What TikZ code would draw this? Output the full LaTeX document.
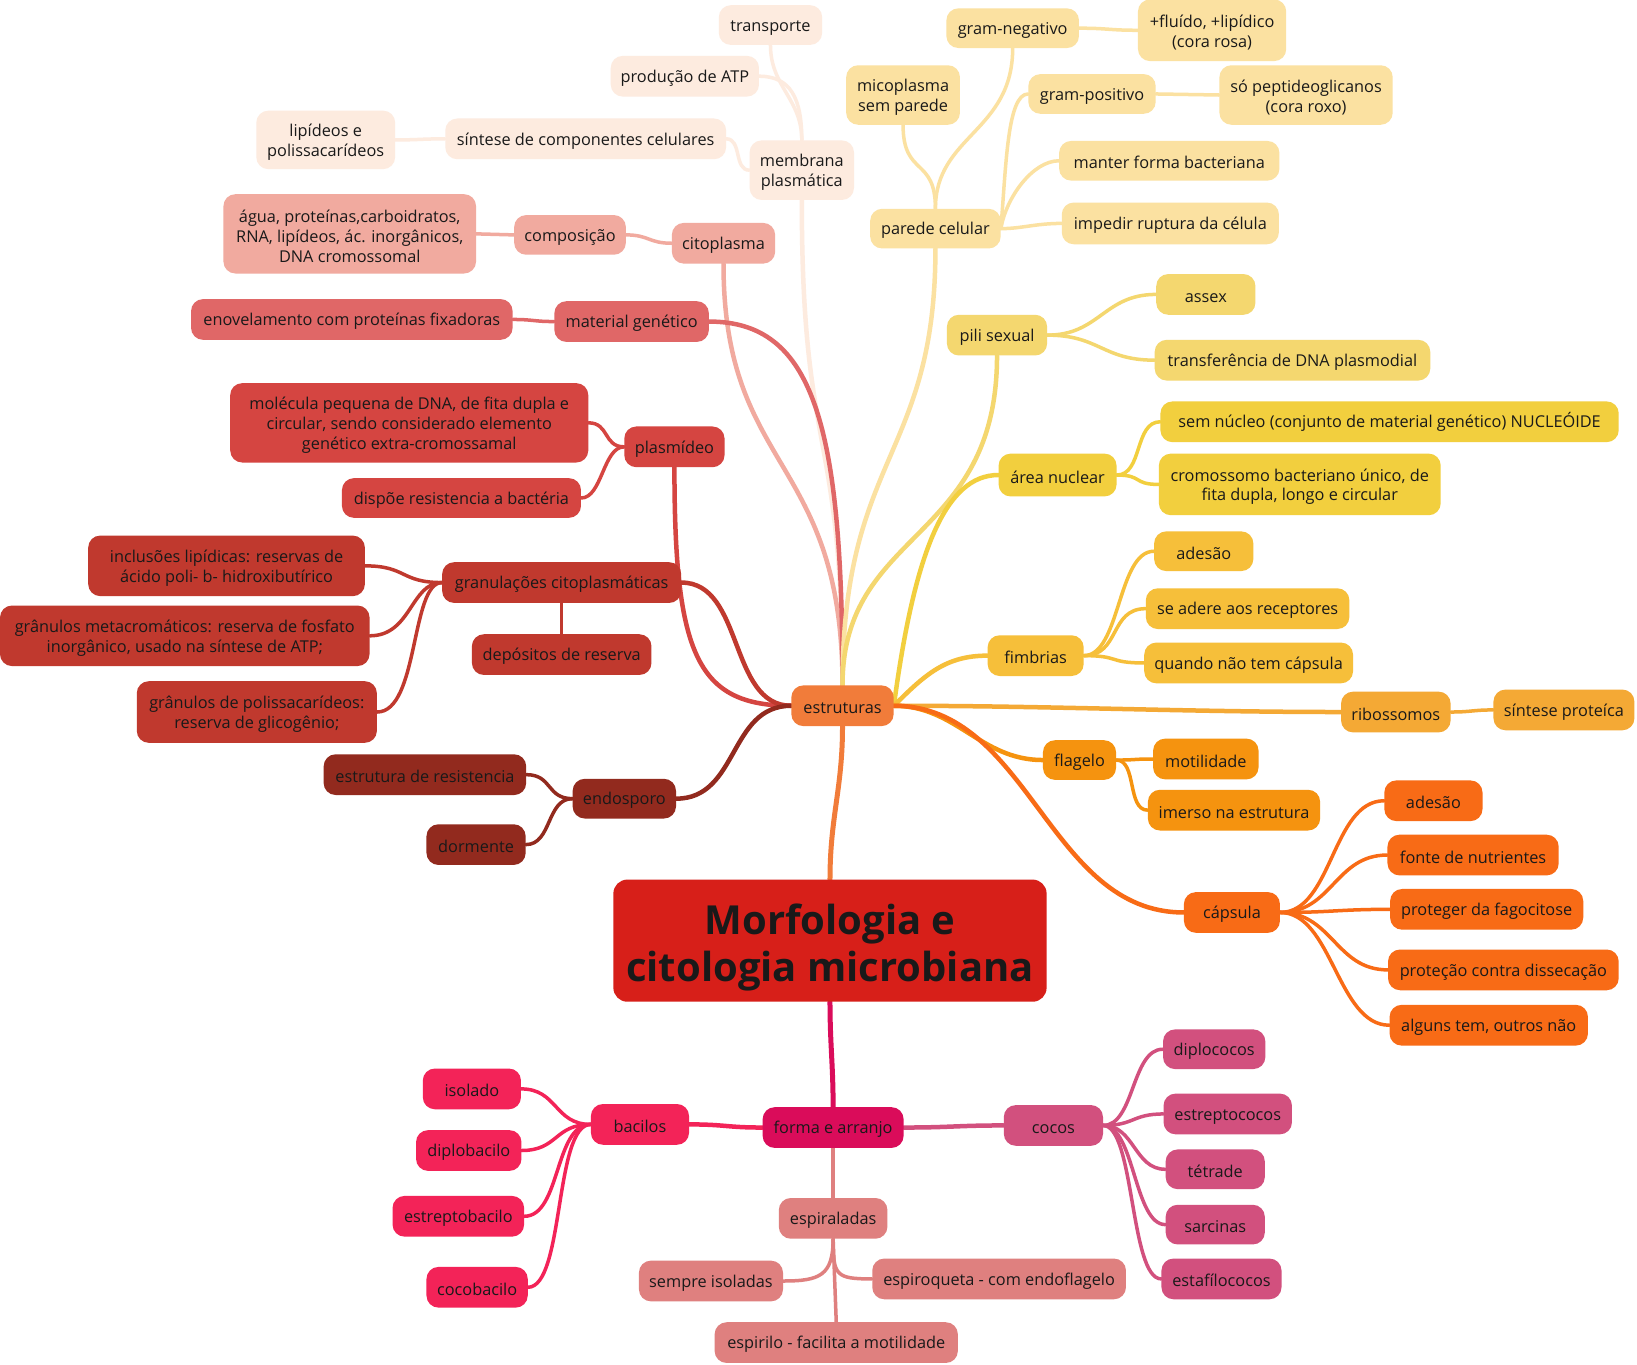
\documentclass[tikz,border=0pt]{standalone}
\usepackage{fontspec}
\setmainfont{Open Sans}
\pgfdeclarelayer{bg}
\pgfsetlayers{bg,main}
\definecolor{cC}{HTML}{D71F19}
\definecolor{cE}{HTML}{F17C3A}
\definecolor{cF}{HTML}{DA0C5A}
\definecolor{cMP}{HTML}{FDEBDF}
\definecolor{cCI}{HTML}{F1AA9F}
\definecolor{cMG}{HTML}{E06767}
\definecolor{cPL}{HTML}{D54541}
\definecolor{cGR}{HTML}{C0392E}
\definecolor{cEN}{HTML}{922A1E}
\definecolor{cPC}{HTML}{FBE1A1}
\definecolor{cPS}{HTML}{F4D76F}
\definecolor{cAN}{HTML}{F2CF3E}
\definecolor{cFB}{HTML}{F6BF3A}
\definecolor{cRB}{HTML}{F4A935}
\definecolor{cFG}{HTML}{F5930F}
\definecolor{cCP}{HTML}{F86B16}
\definecolor{cBA}{HTML}{F32358}
\definecolor{cCO}{HTML}{D2507E}
\definecolor{cES}{HTML}{DF807F}
\newcommand\mmfs{\fontsize{16.3}{19.8}\selectfont}
\tikzset{
  box/.style={rounded corners=12pt, inner xsep=2pt, inner ysep=3pt, align=center, font=\mmfs, text=black!90,
    execute at begin node={\rule{0pt}{1.0em}}},
  ln/.style={draw=#1, line width=3.5pt, line cap=round},
  mln/.style={draw=#1, line width=4.5pt, line cap=round}
}
\newcommand\mm[7]{\node[box, fill=#6, minimum width=#4*1.044pt, minimum height=#5*1.044pt] (#1) at (#2,#3) {#7};}
\newcommand\mmm[7]{\node[box, fill=#6, minimum width=#4*1.044pt, minimum height=#5*1.044pt] (#1) at (#2,#3) {\rule{0pt}{1.05em}#7};}
\begin{document}
\begin{tikzpicture}[x=1.044pt,y=-1.044pt]
\useasboundingbox (0,0) rectangle (1568,1307);
% central
\node[box, fill=cC, rounded corners=14pt, minimum width=415*1.044pt, minimum height=117*1.044pt, font=\fontsize{40}{47}\selectfont\bfseries] (c) at (795,901) {\rule{0pt}{1.1em}Morfologia e\\citologia microbiana};
\mm{e}{807}{676}{98}{39}{cE}{estruturas}
\mm{f}{798}{1080}{135}{39}{cF}{forma e arranjo}
% left upper
\mmm{mp}{768}{163}{100}{57}{cMP}{membrana\\plasmática}
\mm{tr}{738}{24}{99}{38}{cMP}{transporte}
\mm{atp}{656}{73}{142}{39}{cMP}{produção de ATP}
\mm{sc}{561}{133}{269}{39}{cMP}{síntese de componentes celulares}
\mmm{lp}{312}{134}{133}{56}{cMP}{lipídeos e\\polissacarídeos}
\mm{cit}{693}{233}{99}{39}{cCI}{citoplasma}
\mm{comp}{546}{225}{107}{38}{cCI}{composição}
\mmm{agua}{335}{224}{242}{76}{cCI}{água, proteínas,carboidratos,\\RNA, lipídeos, ác. inorgânicos,\\DNA cromossomal}
\mm{mg}{605}{308}{148}{39}{cMG}{material genético}
\mm{env}{337}{306}{308}{39}{cMG}{enovelamento com proteínas fixadoras}
\mm{pl}{646}{428}{96}{39}{cPL}{plasmídeo}
\mmm{mol}{392}{405}{343}{76}{cPL}{molécula pequena de DNA, de fita dupla e\\circular, sendo considerado elemento\\genético extra-cromossamal}
\mm{disp}{442}{477}{229}{38}{cPL}{dispõe resistencia a bactéria}
\mm{gr}{538}{558}{229}{39}{cGR}{granulações citoplasmáticas}
\mmm{inc}{217}{542}{265}{58}{cGR}{inclusões lipídicas: reservas de\\ácido poli- b- hidroxibutírico}
\mmm{met}{177}{609}{354}{58}{cGR}{grânulos metacromáticos: reserva de fosfato\\inorgânico, usado na síntese de ATP;}
\mmm{pol}{246}{682}{230}{59}{cGR}{grânulos de polissacarídeos:\\reserva de glicogênio;}
\mm{dep}{538}{627}{172}{39}{cGR}{depósitos de reserva}
\mm{endo}{598}{765}{99}{38}{cEN}{endosporo}
\mm{er}{407}{742}{194}{39}{cEN}{estrutura de resistencia}
\mm{dor}{456}{809}{95}{39}{cEN}{dormente}
% right upper
\mm{pc}{896}{219}{125}{38}{cPC}{parede celular}
\mmm{mic}{865}{91}{109}{57}{cPC}{micoplasma\\sem parede}
\mm{gn}{970}{27}{127}{38}{cPC}{gram-negativo}
\mmm{fl}{1161}{29}{142}{59}{cPC}{+fluído, +lipídico\\(cora rosa)}
\mm{gp}{1046}{90}{122}{38}{cPC}{gram-positivo}
\mmm{sp}{1251}{91}{166}{57}{cPC}{só peptideoglicanos\\(cora roxo)}
\mm{mf}{1120}{154}{211}{38}{cPC}{manter forma bacteriana}
\mm{ir}{1121}{214}{208}{40}{cPC}{impedir ruptura da célula}
\mm{ps}{955}{321}{96}{39}{cPS}{pili sexual}
\mm{as}{1155}{282}{95}{39}{cPS}{assex}
\mm{tdna}{1238}{345}{264}{39}{cPS}{transferência de DNA plasmodial}
\mm{an}{1013}{455}{113}{41}{cAN}{área nuclear}
\mm{sn}{1331}{404}{439}{39}{cAN}{sem núcleo (conjunto de material genético) NUCLEÓIDE}
\mmm{cr}{1245}{464}{270}{59}{cAN}{cromossomo bacteriano único, de\\fita dupla, longo e circular}
\mm{fb}{992}{628}{92}{39}{cFB}{fimbrias}
\mm{ad1}{1153}{528}{95}{38}{cFB}{adesão}
\mm{sa}{1195}{583}{195}{39}{cFB}{se adere aos receptores}
\mm{qn}{1196}{635}{200}{39}{cFB}{quando não tem cápsula}
\mm{rb}{1337}{682}{105}{39}{cRB}{ribossomos}
\mm{spt}{1498}{680}{135}{39}{cRB}{síntese proteíca}
\mm{fg}{1034}{728}{70}{38}{cFG}{flagelo}
\mm{mot}{1155}{727}{101}{39}{cFG}{motilidade}
\mm{im}{1182}{776}{165}{39}{cFG}{imerso na estrutura}
\mm{cap}{1180}{874}{92}{39}{cCP}{cápsula}
\mm{ad2}{1373}{767}{94}{39}{cCP}{adesão}
\mm{fn}{1411}{819}{164}{39}{cCP}{fonte de nutrientes}
\mm{pf}{1424}{871}{185}{39}{cCP}{proteger da fagocitose}
\mm{pd}{1440}{929}{221}{39}{cCP}{proteção contra dissecação}
\mm{at}{1426}{982}{190}{39}{cCP}{alguns tem, outros não}
% bottom
\mm{bac}{613}{1077}{94}{39}{cBA}{bacilos}
\mm{iso}{452}{1043}{94}{39}{cBA}{isolado}
\mm{dip}{449}{1102}{101}{39}{cBA}{diplobacilo}
\mm{est}{439}{1165}{126}{39}{cBA}{estreptobacilo}
\mm{cob}{457}{1233}{97}{39}{cBA}{cocobacilo}
\mm{coc}{1009}{1078}{95}{39}{cCO}{cocos}
\mm{dpc}{1163}{1005}{98}{38}{cCO}{diplococos}
\mm{stc}{1176}{1067}{123}{39}{cCO}{estreptococos}
\mm{tet}{1164}{1120}{95}{38}{cCO}{tétrade}
\mm{sar}{1164}{1173}{95}{38}{cCO}{sarcinas}
\mm{sta}{1170}{1225}{115}{39}{cCO}{estafílococos}
\mm{esp}{798}{1167}{104}{39}{cES}{espiraladas}
\mm{si}{681}{1227}{138}{39}{cES}{sempre isoladas}
\mm{eq}{957}{1225}{243}{39}{cES}{espiroqueta - com endoflagelo}
\mm{eh}{801}{1286}{233}{39}{cES}{espirilo - facilita a motilidade}
\begin{pgfonlayer}{bg}
\fill[white] (0,0) rectangle (1568,1307);
% central links
\draw[mln=cE, line width=5pt] (c.north) .. controls +(0,-60) and +(0,60) .. (e.south);
\draw[mln=cF, line width=5pt] (c.south) .. controls +(0,40) and +(0,-40) .. (f.north);
% estruturas branches
\draw[mln=cMP] (mp.south) .. controls +(0,250) and +(0,-250) .. (e.north);
\draw[mln=cCI] (cit.south) .. controls +(0,200) and +(0,-220) .. (e.north);
\draw[mln=cMG] (mg.east) .. controls +(100,0) and +(0,-250) .. (e.north);
\draw[mln=cPL] (pl.south) .. controls +(0,180) and +(-90,0) .. (e.west);
\draw[mln=cGR] (gr.east) .. controls +(60,0) and +(-60,0) .. (e.west);
\draw[mln=cEN] (endo.east) .. controls +(60,0) and +(-60,0) .. (e.west);
\draw[mln=cPC] (pc.south) .. controls +(0,200) and +(0,-220) .. (e.north);
\draw[mln=cPS] (ps.south) .. controls +(0,180) and +(0,-150) .. (e.north);
\draw[mln=cAN] (an.west) .. controls +(-50,0) and +(20,-150) .. (e.east);
\draw[mln=cFB] (fb.west) .. controls +(-40,0) and +(30,-30) .. (e.east);
\draw[mln=cRB] (rb.west) .. controls +(-150,0) and +(150,0) .. (e.east);
\draw[mln=cFG] (fg.west) .. controls +(-60,0) and +(60,0) .. (e.east);
\draw[mln=cCP] (cap.west) .. controls +(-130,0) and +(130,0) .. (e.east);
% membrana
\draw[ln=cMP] (tr.south) .. controls +(0,40) and +(0,-40) .. (mp.north);
\draw[ln=cMP] (atp.east) .. controls +(30,0) and +(0,-40) .. (mp.north);
\draw[ln=cMP] (sc.east) .. controls +(15,0) and +(-15,0) .. (mp.west);
\draw[ln=cMP] (lp.east) .. controls +(25,0) and +(-25,0) .. (sc.west);
% citoplasma
\draw[ln=cCI] (comp.east) .. controls +(22,0) and +(-22,0) .. (cit.west);
\draw[ln=cCI] (agua.east) .. controls +(18,0) and +(-18,0) .. (comp.west);
\draw[ln=cMG] (env.east) .. controls +(20,0) and +(-20,0) .. (mg.west);
\draw[ln=cPL] (mol.east) .. controls +(20,0) and +(-20,0) .. (pl.west);
\draw[ln=cPL] (disp.east) .. controls +(20,0) and +(-20,0) .. (pl.west);
\draw[ln=cGR] (inc.east) .. controls +(40,0) and +(-40,0) .. (gr.west);
\draw[ln=cGR] (met.east) .. controls +(40,0) and +(-30,0) .. (gr.west);
\draw[ln=cGR] (pol.east) .. controls +(40,0) and +(-30,0) .. (gr.west);
\draw[ln=cGR] (gr.south) -- (dep.north);
\draw[ln=cEN] (er.east) .. controls +(25,0) and +(-25,0) .. (endo.west);
\draw[ln=cEN] (dor.east) .. controls +(25,0) and +(-25,0) .. (endo.west);
% parede
\draw[ln=cPC] (mic.south) .. controls +(0,50) and +(0,-50) .. (pc.north);
\draw[ln=cPC] (gn.south) .. controls +(0,80) and +(0,-70) .. (pc.north);
\draw[ln=cPC] (gp.west) .. controls +(-20,0) and +(5,-60) .. (pc.east);
\draw[ln=cPC] (mf.west) .. controls +(-25,0) and +(5,-30) .. (pc.east);
\draw[ln=cPC] (ir.west) .. controls +(-25,0) and +(20,0) .. (pc.east);
\draw[ln=cPC] (gn.east) .. controls +(28,0) and +(-28,0) .. (fl.west);
\draw[ln=cPC] (gp.east) .. controls +(30,0) and +(-30,0) .. (sp.west);
% pili
\draw[ln=cPS] (ps.east) .. controls +(50,0) and +(-50,0) .. (as.west);
\draw[ln=cPS] (ps.east) .. controls +(50,0) and +(-50,0) .. (tdna.west);
% area nuclear
\draw[ln=cAN] (an.east) .. controls +(25,0) and +(-25,0) .. (sn.west);
\draw[ln=cAN] (an.east) .. controls +(25,0) and +(-25,0) .. (cr.west);
% fimbrias
\draw[ln=cFB] (fb.east) .. controls +(35,0) and +(-35,0) .. (ad1.west);
\draw[ln=cFB] (fb.east) .. controls +(35,0) and +(-35,0) .. (sa.west);
\draw[ln=cFB] (fb.east) .. controls +(35,0) and +(-35,0) .. (qn.west);
% ribossomos
\draw[ln=cRB] (rb.east) .. controls +(20,0) and +(-20,0) .. (spt.west);
% flagelo
\draw[ln=cFG] (fg.east) .. controls +(20,0) and +(-20,0) .. (mot.west);
\draw[ln=cFG] (fg.east) .. controls +(20,0) and +(-20,0) .. (im.west);
% capsula
\draw[ln=cCP] (cap.east) .. controls +(50,0) and +(-50,0) .. (ad2.west);
\draw[ln=cCP] (cap.east) .. controls +(50,0) and +(-50,0) .. (fn.west);
\draw[ln=cCP] (cap.east) .. controls +(50,0) and +(-50,0) .. (pf.west);
\draw[ln=cCP] (cap.east) .. controls +(50,0) and +(-50,0) .. (pd.west);
\draw[ln=cCP] (cap.east) .. controls +(50,0) and +(-50,0) .. (at.west);
% forma e arranjo
\draw[mln=cBA] (f.west) .. controls +(-35,0) and +(35,0) .. (bac.east);
\draw[mln=cCO] (f.east) .. controls +(45,0) and +(-45,0) .. (coc.west);
\draw[mln=cES] (f.south) -- (esp.north);
\draw[ln=cBA] (bac.west) .. controls +(-35,0) and +(35,0) .. (iso.east);
\draw[ln=cBA] (bac.west) .. controls +(-35,0) and +(35,0) .. (dip.east);
\draw[ln=cBA] (bac.west) .. controls +(-35,0) and +(35,0) .. (est.east);
\draw[ln=cBA] (bac.west) .. controls +(-35,0) and +(35,0) .. (cob.east);
\draw[ln=cCO] (coc.east) .. controls +(30,0) and +(-30,0) .. (dpc.west);
\draw[ln=cCO] (coc.east) .. controls +(30,0) and +(-30,0) .. (stc.west);
\draw[ln=cCO] (coc.east) .. controls +(30,0) and +(-30,0) .. (tet.west);
\draw[ln=cCO] (coc.east) .. controls +(30,0) and +(-30,0) .. (sar.west);
\draw[ln=cCO] (coc.east) .. controls +(30,0) and +(-30,0) .. (sta.west);
\draw[ln=cES] (esp.south) .. controls +(0,35) and +(35,0) .. (si.east);
\draw[ln=cES] (esp.south) .. controls +(0,35) and +(-35,0) .. (eq.west);
\draw[ln=cES] (esp.south) -- (eh.north);
\end{pgfonlayer}
\end{tikzpicture}
\end{document}
